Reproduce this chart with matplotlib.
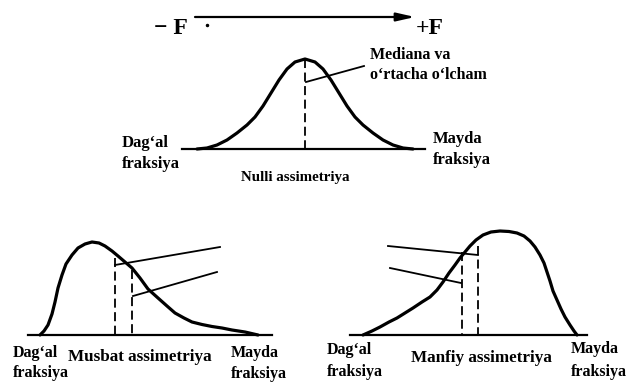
import matplotlib
matplotlib.use("Agg")
import matplotlib.pyplot as plt

# ---- data (pixel coordinates) ----
top_curve_x = [197, 207, 217, 227, 237, 247, 255, 263, 271, 279, 287, 295, 305,
               315, 323, 331, 339, 347, 355, 363, 373, 383, 393, 403, 413]
top_curve_y = [149, 148, 145, 140, 133, 125, 117, 106, 93, 80, 69, 62, 59,
               62, 69, 80, 93, 106, 117, 125, 133, 140, 145, 148, 149]

pos_curve_x = [40, 44, 48, 52, 55, 58, 62, 66, 72, 78, 85, 92, 99, 105, 112, 118,
               125, 132, 140, 148, 158, 167, 175, 184, 192, 202, 212, 222, 232, 245, 258]
pos_curve_y = [335, 331, 325, 314, 302, 288, 275, 264, 255, 248, 244, 242, 243, 246,
               251, 256, 262, 268, 278, 289, 298, 306, 313, 318, 322, 324.5, 326.5,
               328, 330, 332, 335]

neg_curve_x = [363, 372, 380, 389, 397, 405, 413, 422, 430, 437, 443, 449, 455, 460,
               465, 470, 476, 483, 491, 500, 509, 517, 524, 530, 535, 540, 544, 547,
               550, 553, 557, 561, 565, 570, 574, 577]
neg_curve_y = [335, 331, 327, 322, 318, 313, 308, 302, 297, 290, 282, 273, 265, 258,
               252, 246, 240, 235, 232, 231, 231.5, 233, 236, 241, 247, 255, 263, 272,
               281, 291, 300, 309, 317, 325, 331, 335]

baselines = [(182, 425, 149), (28, 272, 335), (350, 587, 335)]
dashed = [(305, 59, 149), (114.5, 258, 335), (131.7, 270, 335),
          (461.7, 252, 335), (477.7, 246, 335)]
leaders = [((306, 82), (364, 66)),
           ((115, 265), (220, 247)), ((133, 296), (217, 272)),
           ((388, 246), (478, 255)), ((390, 268), (461, 283))]

# (text, x, y, ha, fontsize)
labels = [
    ("Mediana va", 370, 55, "left", 11.5),
    ("o\u2018rtacha o\u2018lcham", 370, 75, "left", 11.5),
    ("Dag\u2018al", 122, 143, "left", 12), ("fraksiya", 122, 164, "left", 12),
    ("Mayda", 433, 139, "left", 12), ("fraksiya", 433, 160, "left", 12),
    ("Nulli assimetriya", 295, 178, "center", 10.8),
    ("Dag\u2018al", 13, 353, "left", 11.5), ("fraksiya", 13, 373, "left", 11.5),
    ("Musbat assimetriya", 68, 357, "left", 12.3),
    ("Mayda", 231, 353, "left", 11.5), ("fraksiya", 231, 374, "left", 11.5),
    ("Dag\u2018al", 327, 350, "left", 11.5), ("fraksiya", 327, 372, "left", 11.5),
    ("Manfiy assimetriya", 411, 358, "left", 12.3),
    ("Mayda", 571, 349, "left", 11.5), ("fraksiya", 571, 372, "left", 11.5),
]

fig = plt.figure(figsize=(6.28, 3.82), dpi=100)
ax = fig.add_axes([0, 0, 1, 1])
ax.set_xlim(0, 628)
ax.set_ylim(382, 0)
ax.axis("off")

font = dict(family="Liberation Serif", weight="bold")

for cx, cy in [(top_curve_x, top_curve_y), (pos_curve_x, pos_curve_y),
               (neg_curve_x, neg_curve_y)]:
    ax.plot(cx, cy, color="black", lw=2.3, solid_capstyle="round",
            solid_joinstyle="round")

for x0, x1, y in baselines:
    ax.plot([x0, x1], [y, y], color="black", lw=1.6)

for x, y0, y1 in dashed:
    ax.plot([x, x], [y0, y1], color="black", lw=1.3, dashes=(5, 2.5))

for (x0, y0), (x1, y1) in leaders:
    ax.plot([x0, x1], [y0, y1], color="black", lw=1.3)

# force arrow
ax.annotate("", xy=(415, 17), xytext=(195, 17),
            arrowprops=dict(arrowstyle="-|>,head_length=1.1,head_width=0.25",
                            color="black", lw=1.6, shrinkA=0, shrinkB=0))
ax.plot([207], [25], marker="o", ms=1.5, color="black")
ax.text(188, 29, "\u2212 F", ha="right", va="center", fontsize=17, **font)
ax.text(416, 29, "+F", ha="left", va="center", fontsize=17, **font)

for txt, x, y, ha, fs in labels:
    ax.text(x, y, txt, ha=ha, va="center", fontsize=fs, **font)

fig.savefig("out.png", dpi=100, facecolor="white")
